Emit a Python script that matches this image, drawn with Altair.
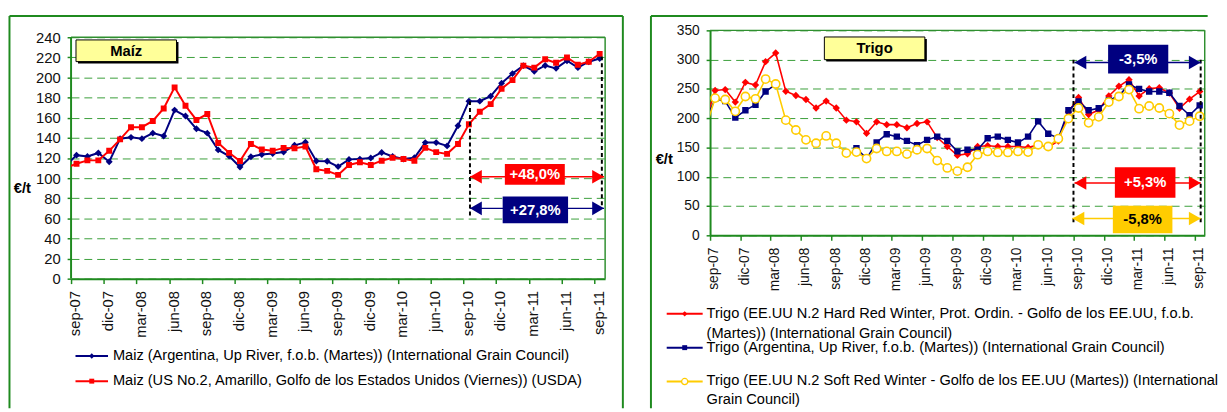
import json
import altair as alt
import pandas as pd

FONT = "Liberation Sans"
FRAME = "#1f8a1f"
AXISG = "#1f8a1f"
BORDER = "#2f8f2f"
GRID = "#3a9e3a"
NAVY = "#000080"
RED = "#FF0000"
GOLD = "#FFCC00"

# ---------------- data ----------------
tick_labels = ["sep-07", "dic-07", "mar-08", "jun-08", "sep-08", "dic-08", "mar-09",
               "jun-09", "sep-09", "dic-09", "mar-10", "jun-10", "sep-10", "dic-10",
               "mar-11", "jun-11", "sep-11"]

# monthly values: first entry = ago-07 (only partly visible at the left edge), then sep-07 ... sep-11
maiz_argentina = [112, 122.8, 121.5, 125.0, 116.3, 139.2, 140.5, 139.2, 144.7, 141.8, 167.6,
                  161.7, 149.0, 144.7, 128.0, 121.9, 111.0, 121.2, 123.5, 124.5, 126.0, 132.6,
                  135.6, 117.0, 116.7, 111.4, 118.6, 118.9, 119.9, 125.5, 121.5, 118.9, 120.2,
                  135.3, 135.3, 132.0, 152.0, 176.5, 176.5, 181.4, 194.4, 203.9, 211.8, 206.2,
                  212.0, 209.1, 216.7, 209.8, 215.7, 218.9]
maiz_usa = [110, 114.3, 117.6, 117.6, 127.1, 138.5, 150.6, 150.6, 156.8, 169.2, 190.2,
            171.9, 157.8, 163.7, 134.9, 125.1, 117.0, 133.9, 128.4, 127.1, 130.0, 129.7,
            131.4, 108.8, 107.2, 103.2, 113.0, 115.7, 113.0, 117.3, 120.2, 118.9, 117.3,
            130.0, 125.8, 124.1, 133.9, 153.5, 166.0, 173.5, 188.8, 197.4, 211.8, 209.8,
            218.2, 214.6, 219.9, 212.7, 215.7, 223.5]

trigo_hrw = [193, 247.3, 248.9, 227.5, 261.2, 256.7, 296.6, 311.3, 246.1, 238.8, 232.0,
             217.4, 229.2, 217.4, 196.7, 193.8, 174.1, 193.8, 189.0, 189.0, 183.7, 191.0,
             193.8, 166.9, 151.7, 136.5, 139.4, 151.7, 152.9, 151.7, 151.7, 151.7, 150.0,
             154.6, 150.5, 161.0, 210.7, 235.5, 206.2, 214.0, 238.0, 254.5, 265.8, 238.0,
             250.5, 252.0, 243.0, 217.0, 232.5, 245.5]
trigo_argentina = [192, 233.1, 229.2, 201.1, 213.5, 223.0, 245.5, 257.9, None, None, None,
                   None, None, None, None, 148.8, 131.0, 158.7, 172.7, 168.5, 161.3, 154.0,
                   163.0, 168.5, 161.3, 143.3, 146.1, 146.1, 165.7, 168.5, 163.0, 158.4, 168.5,
                   194.5, 173.5, 165.7, 213.5, 228.7, 213.5, 217.0, 230.4, 238.2, 257.5, 250.0,
                   245.5, 245.5, 243.5, 220.8, 205.1, 222.0]
trigo_srw = [179, 234.3, 232.0, 211.8, 237.1, 233.1, 266.8, 258.4, 196.7, 179.8, 163.0,
             157.3, 169.7, 157.3, 140.4, 142.1, 131.0, 148.3, 143.3, 143.3, 138.7, 146.1,
             148.3, 127.6, 115.1, 109.6, 116.3, 137.7, 143.3, 141.6, 141.6, 143.3, 142.1,
             154.6, 151.7, 165.0, 199.4, 217.4, 192.1, 202.3, 227.5, 237.1, 248.9, 216.3,
             220.8, 217.4, 207.8, 188.3, 195.0, 203.4]

maiz_legend = ["Maiz (Argentina, Up River, f.o.b. (Martes)) (International Grain Council)",
               "Maiz (US No.2, Amarillo, Golfo de los Estados Unidos (Viernes)) (USDA)"]
trigo_legend = [["Trigo (EE.UU N.2 Hard Red Winter, Prot. Ordin. - Golfo de los EE.UU, f.o.b.",
                 "(Martes)) (International Grain Council)"],
                ["Trigo (Argentina, Up River, f.o.b. (Martes)) (International Grain Council)"],
                ["Trigo (EE.UU N.2 Soft Red Winter - Golfo de los EE.UU (Martes)) (International",
                 "Grain Council)"]]
maiz_changes = ["+48,0%", "+27,8%"]
trigo_changes = ["-3,5%", "+5,3%", "-5,8%"]

# ---------------- helpers ----------------
one = pd.DataFrame({"k": [0]})
LABEL_EXPR = json.dumps(tick_labels) + "[round(datum.value / 3)]"
HEAD_L = "M0,0L2,-1.15L2,1.15Z"
HEAD_R = "M0,0L-2,-1.15L-2,1.15Z"


class Panel:
    def __init__(self, ytop, ydomain_max, ystep, yfs, xfs, title_xy, ydomain_line):
        self.ytop = ytop
        self.sx = alt.Scale(domain=[0, 49], nice=False, zero=False)
        self.sy = alt.Scale(domain=[0, ydomain_max], nice=False, zero=True)
        self.ax = alt.Axis(values=list(range(0, 49, 3)), labelExpr=LABEL_EXPR, labelAngle=270,
                           labelFontSize=xfs, labelFont=FONT, labelColor="#111111",
                           labelPadding=7, labelOffset=4, labelOverlap=False, labelFlush=False,
                           tickColor=AXISG, tickSize=5, tickWidth=1.5, domainColor=AXISG,
                           domainWidth=2, grid=False, title=None)
        self.ay = alt.Axis(values=list(range(0, ytop + 1, ystep)), labelFontSize=yfs,
                           labelFont=FONT, labelColor="#111111", labelPadding=7,
                           labelFlush=False, tickColor=AXISG, tickSize=4, tickWidth=1.5,
                           domain=ydomain_line, domainColor=AXISG, domainWidth=2,
                           grid=True, gridColor=GRID,
                           gridDash=[8, 5], gridWidth=1, title="€/t", titleAngle=0,
                           titleX=title_xy[0], titleY=title_xy[1], titleAlign="center",
                           titleBaseline="middle", titleFont=FONT, titleFontSize=15,
                           titleFontWeight="bold", titleColor="#000000")

    def X(self, f):
        return alt.X(f, type="quantitative", scale=self.sx, axis=self.ax)

    def Y(self, f):
        return alt.Y(f, type="quantitative", scale=self.sy, axis=self.ay)


def series_df(values):
    rows, seg, gap = [], 0, False
    for i, v in enumerate(values):
        if v is None:
            gap = True
            continue
        if gap:
            seg += 1
            gap = False
        rows.append({"pos": i - 1 + 0.5, "value": v, "seg": seg})
    return pd.DataFrame(rows)


def series(p, values, color, shape, size, width, fill=None):
    df = series_df(values)
    line = alt.Chart(df).mark_line(color=color, strokeWidth=width, clip=True).encode(
        x=p.X("pos"), y=p.Y("value"), detail="seg:N")
    kw = dict(shape=shape, size=size, color=color, opacity=1, clip=True)
    if fill:
        kw.update(filled=False, fill=fill, strokeWidth=1.6)
    else:
        kw.update(filled=True)
    pts = alt.Chart(df).mark_point(**kw).encode(x=p.X("pos"), y=p.Y("value"))
    return [line, pts]


def data_rule(p, x1, y1, x2=None, y2=None, **kw):
    d = {"x1": [x1], "y1": [y1]}
    enc = dict(x=p.X("x1"), y=p.Y("y1"))
    if x2 is not None:
        d["x2"] = [x2]
        enc["x2"] = "x2"
    if y2 is not None:
        d["y2"] = [y2]
        enc["y2"] = "y2"
    return alt.Chart(pd.DataFrame(d)).mark_rule(**kw).encode(**enc)


def plot_border(p, left_line):
    out = [data_rule(p, 0, p.ytop, x2=49, color=BORDER, strokeWidth=1.5),
           data_rule(p, 49, 0, y2=p.ytop, color=BORDER, strokeWidth=1.5)]
    if left_line:
        out.append(data_rule(p, 0, 0, y2=p.ytop, color=AXISG, strokeWidth=2))
    return out


def vdash(p, x, y1, y2):
    return data_rule(p, x, y1, y2=y2, color="black", strokeWidth=2, strokeDash=[4, 3])


def arrow(p, x1, x2, y, color):
    df = pd.DataFrame({"x1": [x1], "x2": [x2], "y": [y]})
    line = alt.Chart(df).mark_rule(color=color, strokeWidth=1.5).encode(
        x=p.X("x1"), x2="x2", y=p.Y("y"))
    hl = alt.Chart(df).mark_point(shape=HEAD_L, size=144, filled=True, color=color,
                                  opacity=1).encode(x=p.X("x1"), y=p.Y("y"))
    hr = alt.Chart(df).mark_point(shape=HEAD_R, size=144, filled=True, color=color,
                                  opacity=1).encode(x=p.X("x2"), y=p.Y("y"))
    return [line, hl, hr]


def label_box(p, x1, x2, y1, y2, text, fill, tcolor):
    df = pd.DataFrame({"x1": [x1], "x2": [x2], "y1": [y1], "y2": [y2],
                       "xc": [(x1 + x2) / 2], "yc": [(y1 + y2) / 2], "t": [text]})
    rect = alt.Chart(df).mark_rect(fill=fill, opacity=1).encode(
        x=p.X("x1"), x2="x2", y=p.Y("y1"), y2="y2")
    txt = alt.Chart(df).mark_text(color=tcolor, font=FONT, fontSize=15,
                                  fontWeight="bold").encode(x=p.X("xc"), y=p.Y("yc"), text="t:N")
    return [rect, txt]


def px_rule(x, y, x2=None, y2=None, **kw):
    enc = dict(x=alt.value(x), y=alt.value(y))
    if x2 is not None:
        enc["x2"] = alt.value(x2)
    if y2 is not None:
        enc["y2"] = alt.value(y2)
    return alt.Chart(one).mark_rule(**kw).encode(**enc)


def px_text(x, y, text, **kw):
    base = dict(font=FONT, fontSize=14.8, color="#000000", align="left", baseline="middle")
    base.update(kw)
    return alt.Chart(one).mark_text(text=text, **base).encode(x=alt.value(x), y=alt.value(y))


def px_rect(x, y, x2, y2, **kw):
    return alt.Chart(one).mark_rect(**kw).encode(
        x=alt.value(x), x2=alt.value(x2), y=alt.value(y), y2=alt.value(y2))


def px_point(x, y, **kw):
    return alt.Chart(one).mark_point(opacity=1, **kw).encode(x=alt.value(x), y=alt.value(y))


def title_box(x1, y1, x2, y2, text):
    return [px_rect(x1 + 2, y1 + 2, x2 + 2, y2 + 2, fill="#000000"),
            px_rect(x1, y1, x2, y2, fill="#FFFF99", stroke="#000000", strokeWidth=1),
            px_text((x1 + x2) / 2, (y1 + y2) / 2, text, align="center", fontSize=15,
                    fontWeight="bold")]


def legend_symbol(x1, x2, y, color, shape, size, fill=None):
    kw = dict(shape=shape, size=size, color=color)
    if fill:
        kw.update(filled=False, fill=fill, strokeWidth=1.3)
    else:
        kw.update(filled=True)
    return [px_rule(x1, y, x2=x2, color=color, strokeWidth=2),
            px_point((x1 + x2) / 2, y, **kw)]


# ---------------- left panel: Maíz ----------------
# the left view starts 7 px above its 240 line, so that both panels share one top edge
L_HEIGHT = 252
L = Panel(240, 240 * L_HEIGHT / 245, 20, 15, 15, (-50, 159.7), False)
left_layers = []
left_layers += [px_rule(-62.5, -14.6, x2=560, color=FRAME, strokeWidth=2),
                px_rule(-62.5, -14.6, y2=383.5, color=FRAME, strokeWidth=2),
                px_rule(560, -14.6, y2=383.5, color=FRAME, strokeWidth=2)]
left_layers += plot_border(L, True)
left_layers += series(L, maiz_argentina, NAVY, "diamond", 49, 2)
left_layers += series(L, maiz_usa, RED, "square", 36, 2)
left_layers += [vdash(L, 36.6, 176.5, 61), vdash(L, 48.7, 221, 70)]
left_layers += arrow(L, 36.6, 48.9, 101.3, RED)
left_layers += arrow(L, 36.6, 48.9, 69.9, NAVY)
left_layers += label_box(L, 39.8, 45.3, 93.4, 114, maiz_changes[0], RED, "white")
left_layers += label_box(L, 39.6, 45.6, 55.2, 81.7, maiz_changes[1], NAVY, "white")
left_layers += title_box(5, 9.7, 107, 31.7, "Maíz")
left_layers += legend_symbol(4.5, 37.5, 330.4, NAVY, "diamond", 30)
left_layers += [px_text(42.5, 330.4, maiz_legend[0])]
left_layers += legend_symbol(4.5, 37.5, 356, RED, "square", 25)
left_layers += [px_text(42.5, 356, maiz_legend[1])]
left = alt.layer(*left_layers).properties(width=542, height=L_HEIGHT)

# ---------------- right panel: Trigo ----------------
R = Panel(350, 350, 50, 14, 14, (-47, 129.7), True)
right_layers = []
right_layers += [px_rule(-60, -14.6, x2=505, color=FRAME, strokeWidth=2),
                 px_rule(-60, -14.6, y2=383.5, color=FRAME, strokeWidth=2)]
right_layers += plot_border(R, False)
right_layers += series(R, trigo_hrw, RED, "diamond", 56, 1.6)
right_layers += series(R, trigo_argentina, NAVY, "square", 42, 1.6)
right_layers += series(R, trigo_srw, GOLD, "circle", 70, 1.6, fill="white")
right_layers += [vdash(R, 36.0, 300, 18.5), vdash(R, 48.6, 300, 18.5)]
right_layers += arrow(R, 36.1, 48.6, 295, NAVY)
right_layers += arrow(R, 36.1, 48.6, 89.3, RED)
right_layers += arrow(R, 35.9, 48.6, 28.7, GOLD)
right_layers += label_box(R, 39.43, 45.39, 276.4, 325.3, trigo_changes[0], NAVY, "white")
right_layers += label_box(R, 40.1, 46.1, 64.0, 116.3, trigo_changes[1], RED, "white")
right_layers += label_box(R, 39.9, 45.8, 3.4, 50.6, trigo_changes[2], GOLD, "black")
right_layers += title_box(116, 6.7, 218, 29.7, "Trigo")
right_layers += legend_symbol(-44, -7.5, 287.7, RED, "diamond", 30)
right_layers += [px_text(-3.5, 287.7, trigo_legend[0][0]),
                 px_text(-3.5, 307.7, trigo_legend[0][1])]
right_layers += legend_symbol(-44, -7.5, 322, NAVY, "square", 25)
right_layers += [px_text(-3.5, 322, trigo_legend[1][0])]
right_layers += legend_symbol(-44, -7.5, 356.4, GOLD, "circle", 40, fill="white")
right_layers += [px_text(-3.5, 356.4, trigo_legend[2][0]),
                 px_text(-3.5, 375.2, trigo_legend[2][1])]
right = alt.layer(*right_layers).properties(width=502, height=208)

chart = alt.hconcat(left, right, spacing=26.5).properties(
    padding={"left": 0, "top": 3.7, "right": 0, "bottom": 0},
    background="white",
).configure_view(strokeWidth=0)

chart.save("out.html", embed_options={"renderer": "svg", "actions": False})
